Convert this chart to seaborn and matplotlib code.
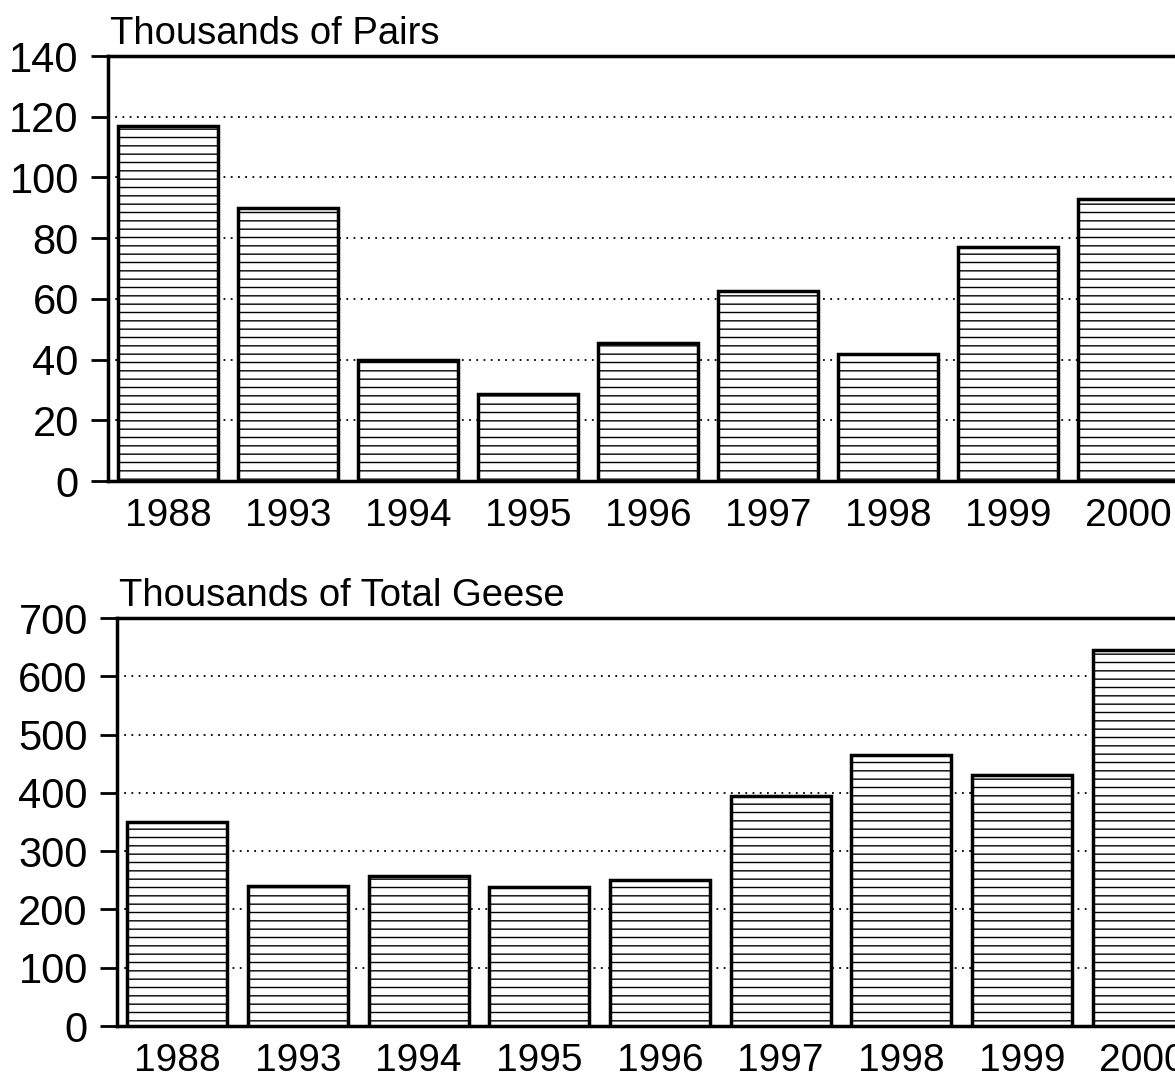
import numpy as np
import pandas as pd
import seaborn as sns
import matplotlib.pyplot as plt

# values
years = ["1988", "1993", "1994", "1995", "1996", "1997", "1998", "1999", "2000"]
pairs = [117, 90, 40, 28.5, 45.5, 62.5, 42, 77, 93]
total_geese = [350, 240, 257, 238, 250, 394, 465, 430, 645]

pairs_ticks = [0, 20, 40, 60, 80, 100, 120, 140]
geese_ticks = [0, 100, 200, 300, 400, 500, 600, 700]

sns.set_style("white")
plt.rcParams["font.family"] = ["Liberation Sans", "DejaVu Sans"]
plt.rcParams["text.color"] = "black"
plt.rcParams["xtick.color"] = "black"
plt.rcParams["ytick.color"] = "black"
plt.rcParams["hatch.color"] = "black"
plt.rcParams["hatch.linewidth"] = 1.0

fig = plt.figure(figsize=(11.75, 10.89), dpi=100)

# axes are wider than the figure on purpose: the scan is cut on the right
ax1 = fig.add_axes([108 / 1175, 1 - 481 / 1089, 1080 / 1175, 425 / 1089])
ax2 = fig.add_axes([117 / 1175, 1 - 1026 / 1089, 1086 / 1175, 408 / 1089])


def draw_panel(ax, values, ticks, title):
    df = pd.DataFrame({"year": years, "value": values})
    sns.barplot(data=df, x="year", y="value", ax=ax, color="white",
                saturation=1, edgecolor="black", linewidth=2.5,
                hatch="--", width=0.83, zorder=3)
    ax.set_xlim(-0.5, len(years) - 0.5)
    ax.set_ylim(ticks[0], ticks[-1])
    ax.set_yticks(ticks)
    ax.set_xlabel("")
    ax.set_ylabel("")
    ax.grid(axis="y", linestyle=(0, (1, 3)), color="black", linewidth=1.3, zorder=0)
    ax.set_axisbelow(True)
    for side in ["left", "top", "bottom"]:
        ax.spines[side].set_visible(True)
        ax.spines[side].set_color("black")
        ax.spines[side].set_linewidth(2.5)
    ax.spines["right"].set_visible(False)
    ax.tick_params(axis="y", left=True, length=12, width=2, pad=9,
                   labelsize=30, labelcolor="black")
    ax.tick_params(axis="x", bottom=False, length=0, pad=12, labelsize=28,
                   labelcolor="black")
    ax.set_title(title, loc="left", fontsize=27.5, pad=9, x=0.002, color="black")


draw_panel(ax1, pairs, pairs_ticks, "Thousands of Pairs")
draw_panel(ax2, total_geese, geese_ticks, "Thousands of Total Geese")

fig.savefig("out.png", dpi=100)
